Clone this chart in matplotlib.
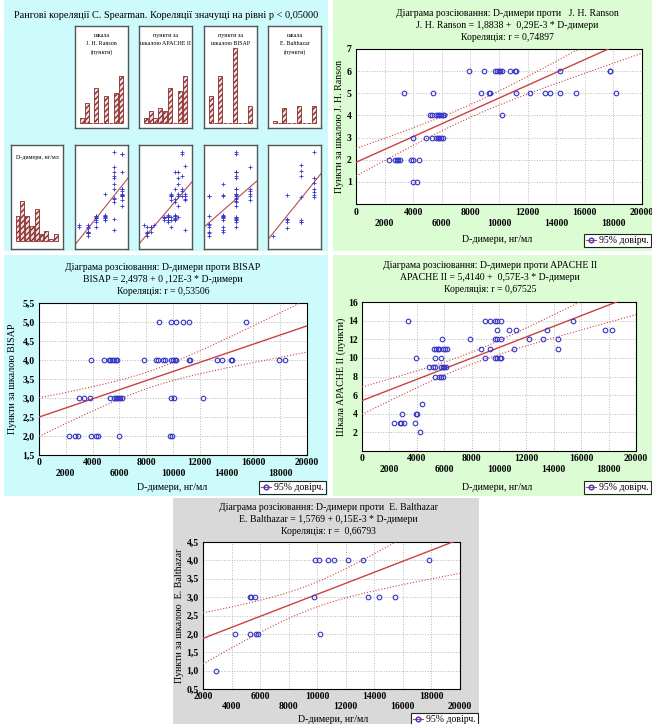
import numpy as np
import matplotlib
matplotlib.use("Agg")
import matplotlib.pyplot as plt
from matplotlib.patches import Rectangle
from matplotlib.lines import Line2D

plt.rcParams['font.family'] = ['Liberation Serif', 'DejaVu Serif']

W, H = 652, 724

# ---------------- data ----------------
ranson_d = [7870, 8960, 9730, 9850, 9970, 10080, 10200, 10740, 11090, 11200, 14280, 17740, 17780,
            3360, 5410, 8730, 9270, 9380, 11200, 12140, 13210, 13540, 14280, 15380, 18180,
            5180, 5300, 5600, 5720, 5830, 5950, 6070, 6180, 10200,
            3970, 4880, 5300, 5600, 5720, 5830, 5950, 6070,
            2310, 2730, 2850, 2960, 3080, 3830, 3970, 4390,
            3970, 4290]
ranson_y = [6, 6, 6, 6, 6, 6, 6, 6, 6, 6, 6, 6, 6,
            5, 5, 5, 5, 5, 5, 5, 5, 5, 5, 5, 5,
            4, 4, 4, 4, 4, 4, 4, 4, 4,
            3, 3, 3, 3, 3, 3, 3, 3,
            2, 2, 2, 2, 2, 2, 2, 2,
            1, 1]

bisap_d = [8990, 9840, 10260, 10780, 11230, 15480,
           3900, 4850, 5190, 5320, 5440, 5620, 5740, 5840, 7850, 8720, 8870, 9270, 9390, 9840,
           9990, 10160, 10260, 11160, 11260, 13290, 13640, 14360, 14440, 17890, 18340,
           3010, 3350, 3800, 5270, 5620, 5740, 5840, 5940, 6040, 6160, 9840, 10110, 12220,
           2240, 2680, 2880, 3900, 4220, 4370, 5940, 9790, 9890]
bisap_y = [5, 5, 5, 5, 5, 5,
           4, 4, 4, 4, 4, 4, 4, 4, 4, 4, 4, 4, 4, 4,
           4, 4, 4, 4, 4, 4, 4, 4, 4, 4, 4,
           3, 3, 3, 3, 3, 3, 3, 3, 3, 3, 3, 3, 3,
           2, 2, 2, 2, 2, 2, 2, 2, 2]

apache_d = [3360, 8970, 9330, 9740, 9870, 10180, 15420,
            9870, 10740, 11210, 13540, 17760, 18220,
            5850, 7870, 9740, 9870, 10110, 12180, 13230, 14320,
            5260, 5380, 5530, 5650, 5940, 6070, 6190, 8720, 9330, 11060, 14320,
            3970, 5340, 5770, 8970, 9740, 9870, 10060, 10180,
            4870, 5210, 5340, 5770, 5900, 6020, 6160,
            5340, 5650, 5770, 5900,
            4360,
            2920, 3920, 4020,
            2310, 2750, 2880, 3050, 3850,
            4260]
apache_y = [14, 14, 14, 14, 14, 14, 14,
            13, 13, 13, 13, 13, 13,
            12, 12, 12, 12, 12, 12, 12, 12,
            11, 11, 11, 11, 11, 11, 11, 11, 11, 11, 11,
            10, 10, 10, 10, 10, 10, 10, 10,
            9, 9, 9, 9, 9, 9, 9,
            8, 8, 8, 8,
            5,
            4, 4, 4,
            3, 3, 3, 3, 3,
            2]

balth_d = [9810, 10090, 10730, 11170, 12190, 13190, 17800,
           5270, 5380, 5640, 9740, 13540, 14300, 15440,
           4250, 5290, 5710, 5820, 10200,
           2930]
balth_y = [4, 4, 4, 4, 4, 4, 4,
           3, 3, 3, 3, 3, 3, 3,
           2, 2, 2, 2, 2,
           1]

# regression coefficients (from the chart titles)
ranson_coef = (1.8838, 0.29e-3)
bisap_coef = (2.4978, 0.12e-3)
apache_coef = (5.4140, 0.57e-3)
balth_coef = (1.5769, 0.15e-3)

# histogram counts in the matrix plot (9 bins each)
hist_slots = [1, 2, 3, 4, 5, 6, 7, 8, 9]
ranson_hist = [2, 8, 0, 14, 0, 11, 0, 12, 19]
apache_hist = [2, 5, 2, 6, 5, 14, 0, 13, 19]
bisap_hist = [11, 0, 19, 0, 0, 30, 0, 0, 7]
balth_hist = [1, 0, 6, 0, 0, 7, 0, 0, 7]
ddimer_hist = [10, 16, 10, 6, 13, 3, 4, 1, 3]

RED = '#cc4040'
BLUE = '#3535c8'
BAR_EDGE = '#8a2a2a'


def frect(x0, y0, x1, y1):
    return [x0 / W, 1 - y1 / H, (x1 - x0) / W, (y1 - y0) / H]


fig = plt.figure(figsize=(W / 100, H / 100), dpi=100)
fig.patch.set_facecolor('white')


def bg(x0, y0, x1, y1, color):
    fig.add_artist(Rectangle((x0 / W, 1 - y1 / H), (x1 - x0) / W, (y1 - y0) / H,
                             transform=fig.transFigure, facecolor=color,
                             edgecolor='none', zorder=0))


CYAN = '#cdfbfb'
GREEN = '#dcfcd4'
GRAY = '#d9d9d9'
bg(4, 0, 328, 251, CYAN)
bg(333, 0, 652, 251, GREEN)
bg(4, 255, 328, 496, CYAN)
bg(333, 255, 652, 496, GREEN)
bg(173, 498, 479, 724, GRAY)


def ftext(x, y, s, **kw):
    fig.text(x / W, 1 - y / H, s, **kw)


def tval(df):
    return 1.96 + 2.5 / df


TFS = 7.0   # title font size
LFS = 7.2   # axis label font size
KFS = 7.0   # tick font size


def main_panel(rect_px, xs, ys, coef, xlim, ylim, yticks, ydec, xmaj, xmin, pads,
               titles, tcx, tys, ylabel, ylx, xlab_xy, leg_px):
    xs = np.asarray(xs, float)
    ys = np.asarray(ys, float)
    ax = fig.add_axes(frect(*rect_px))
    ax.set_facecolor('white')
    ax.set_xlim(xlim)
    ax.set_ylim(ylim)
    a, b = coef
    gx = np.linspace(xlim[0], xlim[1], 300)
    n = len(xs)
    xm = xs.mean()
    sxx = ((xs - xm) ** 2).sum()
    s = np.sqrt(((ys - (a + b * xs)) ** 2).sum() / (n - 2))
    half = tval(n - 2) * s * np.sqrt(1.0 / n + (gx - xm) ** 2 / sxx)
    line = a + b * gx
    ax.plot(gx, line, color=RED, lw=1.0, zorder=3)
    ax.plot(gx, line + half, color=RED, lw=0.8, ls=':', zorder=3)
    ax.plot(gx, line - half, color=RED, lw=0.8, ls=':', zorder=3)
    ax.plot(xs, ys, 'o', ms=3.3, mfc='none', mec=BLUE, mew=0.8, zorder=4)
    ax.set_xticks(xmaj)
    ax.set_xticklabels([str(v) for v in xmaj], fontweight='bold')
    ax.set_xticks(xmin, minor=True)
    ax.set_xticklabels([str(v) for v in xmin], minor=True, fontweight='bold')
    ax.set_yticks(yticks)
    if ydec:
        ax.set_yticklabels([f"{v:.1f}".replace('.', ',') for v in yticks], fontweight='bold')
    else:
        ax.set_yticklabels([str(v) for v in yticks], fontweight='bold')
    ax.tick_params(axis='x', which='major', length=0, pad=pads[0], labelsize=KFS)
    ax.tick_params(axis='x', which='minor', length=0, pad=pads[1], labelsize=KFS)
    ax.tick_params(axis='y', length=0, pad=3, labelsize=KFS)
    ax.grid(True, which='both', axis='x', color='#b8b8b8', ls=':', lw=0.7)
    ax.grid(True, which='major', axis='y', color='#b8b8b8', ls=':', lw=0.7)
    for sp in ax.spines.values():
        sp.set_linewidth(0.8)
    for t, yy in zip(titles, tys):
        ftext(tcx, yy, t, ha='center', va='center', fontsize=TFS)
    cy = (rect_px[1] + rect_px[3]) / 2
    ftext(ylx, cy, ylabel, ha='center', va='center', rotation=90, fontsize=LFS)
    ftext(xlab_xy[0], xlab_xy[1], 'D-димери, нг/мл', ha='center', va='center', fontsize=LFS)
    h = Line2D([], [], color=RED, lw=0.8, marker='o', ms=3.3, mfc='none', mec=BLUE)
    leg = fig.legend(handles=[h], labels=['95% довірч.'], loc='lower right',
                     bbox_to_anchor=(leg_px[0] / W, 1 - leg_px[1] / H),
                     frameon=True, fancybox=False, edgecolor='#222222', framealpha=1,
                     fontsize=7, handlelength=1.1, handletextpad=0.3,
                     borderpad=0.2, borderaxespad=0)
    leg.get_frame().set_linewidth(0.8)
    return ax


xm_a = [0, 4000, 8000, 12000, 16000, 20000]
xn_a = [2000, 6000, 10000, 14000, 18000]

main_panel((356, 49, 642, 204), ranson_d, ranson_y, ranson_coef, (0, 20000), (0, 7),
           [1, 2, 3, 4, 5, 6, 7], False, xm_a, xn_a, (3, 11),
           ['Діаграма розсіювання: D-димери проти   J. H. Ranson',
            'J. H. Ranson = 1,8838 +  0,29E-3 * D-димери',
            'Кореляція: r = 0,74897'],
           507, [13, 25, 37], 'Пункти за шкалою J. H. Ranson', 339, (497, 239), (651, 247))

main_panel((39, 303, 307, 455), bisap_d, bisap_y, bisap_coef, (0, 20000), (1.5, 5.5),
           [1.5, 2.0, 2.5, 3.0, 3.5, 4.0, 4.5, 5.0, 5.5], True, xm_a, xn_a, (2, 10),
           ['Діаграма розсіювання: D-димери проти BISAP',
            'BISAP = 2,4978 + 0 ,12E-3 * D-димери',
            'Кореляція: r = 0,53506'],
           163, [267, 279, 291], 'Пункти за шкалою BISAP', 13, (172, 488), (326, 494))

main_panel((362, 302, 636, 451), apache_d, apache_y, apache_coef, (0, 20000), (0, 16),
           [2, 4, 6, 8, 10, 12, 14, 16], False, xm_a, xn_a, (2, 10),
           ['Діаграма розсіювання: D-димери проти APACHE II',
            'APACHE II = 5,4140 +  0,57E-3 * D-димери',
            'Кореляція: r = 0,67525'],
           490, [265, 278, 290], 'Шкала APACHE II (пункти)', 341, (497, 487), (651, 494))

main_panel((203, 542, 460, 689), balth_d, balth_y, balth_coef, (2000, 20000), (0.5, 4.5),
           [0.5, 1.0, 1.5, 2.0, 2.5, 3.0, 3.5, 4.0, 4.5], True,
           [2000, 6000, 10000, 14000, 18000], [4000, 8000, 12000, 16000, 20000], (2, 9.5),
           ['Діаграма розсіювання: D-димери проти  E. Balthazar',
            'E. Balthazar = 1,5769 + 0,15E-3 * D-димери',
            'Кореляція: r =  0,66793'],
           328, [508, 519, 531], 'Пункти за шкалою  E. Balthazar', 180, (333, 719), (478, 726))

# ---------------- matrix plot (top-left) ----------------
ftext(166, 15, 'Рангові кореляції C. Spearman. Кореляції значущі на рівні p < 0,05000',
      ha='center', va='center', fontsize=7.4)

col_x = [(11, 63), (75, 128), (139, 192), (204, 257), (268, 321)]
top_y = (26, 128)
bot_y = (145, 249)


def box_axes(xr, yr):
    ax = fig.add_axes(frect(xr[0], yr[0], xr[1], yr[1]))
    ax.set_facecolor('white')
    ax.set_xticks([])
    ax.set_yticks([])
    for sp in ax.spines.values():
        sp.set_color('#555555')
        sp.set_linewidth(1.0)
    return ax


def hist_box(ax, counts, ylim, labels, label_y0):
    ax.bar(hist_slots, counts, width=0.8, facecolor='#efe0e0', edgecolor=BAR_EDGE,
           hatch='//////', linewidth=0.6)
    ax.set_xlim(-0.38, 10.52)
    ax.set_ylim(ylim)
    for i, s in enumerate(labels):
        ax.text(0.5, label_y0 - i * 0.085, s, transform=ax.transAxes, ha='center',
                va='center', fontsize=4.3)


top_ylim = (-2.0, 38.8)
hist_box(box_axes(col_x[1], top_y), ranson_hist, top_ylim,
         ['шкала', 'J. H. Ranson', '(пункти)'], 0.91)
hist_box(box_axes(col_x[2], top_y), apache_hist, top_ylim,
         ['пункти за', 'шкалою APACHE II'], 0.91)
hist_box(box_axes(col_x[3], top_y), bisap_hist, top_ylim,
         ['пункти за', 'шкалою BISAP'], 0.91)
hist_box(box_axes(col_x[4], top_y), balth_hist, top_ylim,
         ['шкала', 'E. Balthazar', '(пункти)'], 0.91)
hist_box(box_axes(col_x[0], bot_y), ddimer_hist, (-3.2, 38.4),
         ['D-димери, нг/мл'], 0.88)


def mini_scatter(ax, scores, dd, xlim):
    scores = np.asarray(scores, float)
    dd = np.asarray(dd, float)
    lo, hi = dd.min(), dd.max()
    rng = hi - lo
    ax.set_xlim(xlim)
    ax.set_ylim(lo - 0.16 * rng, hi + 0.08 * rng)
    k, c = np.polyfit(scores, dd, 1)
    gx = np.array(xlim)
    ax.plot(gx, c + k * gx, color='#b05050', lw=0.8)
    ax.plot(scores, dd, '+', ms=2.2, mew=0.6, color=BLUE)


mini_scatter(box_axes(col_x[1], bot_y), ranson_y, ranson_d, (0.53, 6.66))
mini_scatter(box_axes(col_x[2], bot_y), apache_y, apache_d, (0.63, 16.05))
mini_scatter(box_axes(col_x[3], bot_y), bisap_y, bisap_d, (1.6, 5.53))
mini_scatter(box_axes(col_x[4], bot_y), balth_y, balth_d, (0.6, 4.5))

fig.savefig('out.png', dpi=100, facecolor='white')
